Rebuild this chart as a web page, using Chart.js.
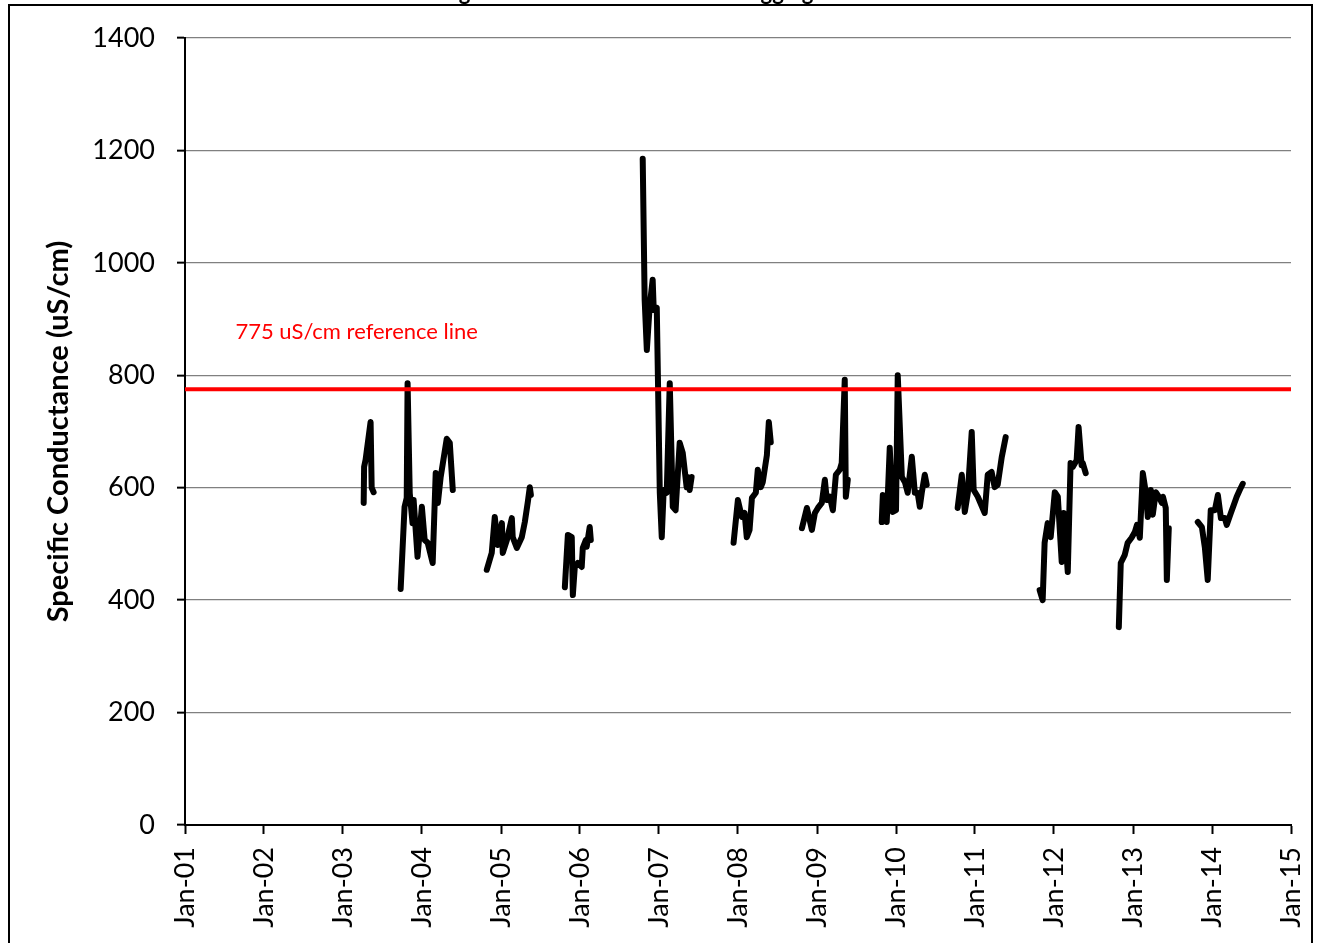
<!DOCTYPE html>
<html>
<head>
<meta charset="utf-8">
<title>Specific Conductance</title>
<script src="https://cdn.jsdelivr.net/npm/chart.js@4.4.1/dist/chart.umd.min.js"></script>
<style>
  body { margin: 0; background: #fff; }
  canvas { display: block; }
</style>
</head>
<body>
<canvas id="myChart" width="1322" height="943"></canvas>
<script>
// logger readings, a null value marks the time the logger was out of the water
const sampleDates = [
  '2003-04-07', '2003-04-09', '2003-04-16', '2003-05-09', '2003-05-14', '2003-05-23',
  '2003-08-01',
  '2003-09-25', '2003-10-13', '2003-10-23', '2003-10-27', '2003-11-06', '2003-11-19',
  '2003-11-24', '2003-12-12', '2004-01-01', '2004-01-14', '2004-01-28', '2004-02-20',
  '2004-03-05', '2004-03-15', '2004-03-28', '2004-04-25', '2004-05-09', '2004-05-23',
  '2004-08-01',
  '2004-10-27', '2004-11-19', '2004-12-03', '2004-12-17', '2005-01-05', '2005-01-09',
  '2005-01-28', '2005-02-20', '2005-02-24', '2005-03-15', '2005-04-07', '2005-04-21',
  '2005-05-05', '2005-05-14', '2005-05-19',
  '2005-08-01',
  '2005-10-23', '2005-11-06', '2005-11-24', '2005-11-29', '2005-12-08', '2005-12-22',
  '2006-01-09', '2006-01-14', '2006-01-28', '2006-02-01', '2006-02-15', '2006-02-20',
  '2006-06-01',
  '2006-10-18', '2006-10-27', '2006-11-06', '2006-11-19', '2006-12-03', '2006-12-08',
  '2006-12-22', '2007-01-05', '2007-01-14', '2007-01-23', '2007-02-06', '2007-02-20',
  '2007-03-06', '2007-03-19', '2007-04-07', '2007-04-21', '2007-05-09', '2007-05-14',
  '2007-05-23', '2007-06-01',
  '2007-09-01',
  '2007-12-12', '2008-01-01', '2008-01-19', '2008-02-01', '2008-02-11', '2008-02-24',
  '2008-03-06', '2008-03-24', '2008-04-02', '2008-04-16', '2008-04-25', '2008-05-14',
  '2008-05-23', '2008-06-01',
  '2008-08-01',
  '2008-10-23', '2008-11-15', '2008-12-08', '2008-12-22', '2009-01-05', '2009-01-23',
  '2009-02-06', '2009-02-15', '2009-03-01', '2009-03-15', '2009-03-29', '2009-04-16',
  '2009-04-25', '2009-05-09', '2009-05-14', '2009-05-23',
  '2009-08-01',
  '2009-10-27', '2009-11-01', '2009-11-19', '2009-12-03', '2009-12-17', '2010-01-01',
  '2010-01-09', '2010-01-28', '2010-02-11', '2010-02-24', '2010-03-15', '2010-03-29',
  '2010-04-11', '2010-04-21', '2010-04-30', '2010-05-14', '2010-05-23',
  '2010-08-01',
  '2010-10-13', '2010-11-01', '2010-11-15', '2010-11-29', '2010-12-17', '2010-12-26',
  '2011-01-14', '2011-02-15', '2011-03-01', '2011-03-19', '2011-04-02', '2011-04-16',
  '2011-05-05', '2011-05-23',
  '2011-08-01',
  '2011-10-27', '2011-11-10', '2011-11-19', '2011-12-03', '2011-12-17', '2012-01-05',
  '2012-01-19', '2012-02-06', '2012-02-15', '2012-03-05', '2012-03-18', '2012-03-28',
  '2012-04-15', '2012-04-24', '2012-05-08', '2012-05-13', '2012-05-27',
  '2012-08-01',
  '2012-10-27', '2012-11-05', '2012-11-23', '2012-12-07', '2012-12-25', '2013-01-09',
  '2013-01-19', '2013-02-01', '2013-02-15', '2013-03-01', '2013-03-10', '2013-03-24',
  '2013-04-02', '2013-04-16', '2013-04-30', '2013-05-14', '2013-05-19', '2013-06-01',
  '2013-06-06', '2013-06-15',
  '2013-08-01',
  '2013-10-27', '2013-11-15', '2013-11-29', '2013-12-12', '2013-12-26', '2014-01-14',
  '2014-01-28', '2014-02-11', '2014-03-01', '2014-03-10', '2014-03-29', '2014-04-11',
  '2014-04-25', '2014-05-09', '2014-05-23'
];

const conductance = [
  573, 637, 650, 717, 600, 592,
  null,
  420, 566, 582, 786, 590, 537,
  578, 477, 566, 507, 502, 466,
  626, 573, 619, 687, 680, 596,
  null,
  454, 484, 548, 498, 537, 484,
  507, 546, 512, 493, 512, 539,
  575, 601, 587,
  null,
  423, 516, 512, 409, 459, 466,
  459, 493, 507, 495, 530, 507,
  null,
  1185, 934, 845, 922, 970, 916,
  920, 591, 512, 596, 591, 786,
  566, 560, 680, 662, 601, 619,
  596, 619,
  null,
  502, 578, 548, 555, 512, 525,
  582, 591, 632, 601, 610, 658,
  717, 681,
  null,
  528, 564, 525, 555, 564, 573,
  614, 578, 584, 560, 623, 632,
  644, 792, 584, 614,
  null,
  539, 587, 539, 671, 557, 560,
  800, 619, 610, 591, 655, 591,
  591, 566, 591, 623, 605,
  null,
  564, 623, 557, 591, 699, 596,
  584, 555, 623, 628, 601, 605,
  655, 690,
  null,
  418, 400, 502, 537, 512, 592,
  584, 468, 555, 450, 644, 637,
  649, 708, 640, 644, 626,
  null,
  352, 466, 480, 502, 511, 521,
  534, 511, 626, 591, 548, 596,
  552, 592, 584, 573, 584, 564,
  436, 528,
  null,
  539, 530, 493, 436, 560, 560,
  587, 546, 546, 534, 555, 569,
  584, 596, 607
];

const axisYears = [2001, 2002, 2003, 2004, 2005, 2006, 2007, 2008, 2009, 2010, 2011, 2012, 2013, 2014, 2015];
const yTicks = [0, 200, 400, 600, 800, 1000, 1200, 1400];

const referenceLevel = 775;
const referenceLabel = '775 uS/cm reference line';
const chartTitle = 'Monitoring Station Conductance Data Logging Record';
const yTitle = 'Specific Conductance (uS/cm)';

const dayMs = 86400000;
function toDay(s) {
  return Date.parse(s + 'T00:00:00Z') / dayMs;
}
function yearDay(y) {
  return Date.UTC(y, 0, 1) / dayMs;
}

const points = sampleDates.map((d, i) => ({ x: toDay(d), y: conductance[i] }));
const xMin = yearDay(axisYears[0]);
const xMax = yearDay(axisYears[axisYears.length - 1]);

Chart.defaults.font.family = 'Lato, "Open Sans", sans-serif';
Chart.defaults.color = '#000';

// title, red text next to the reference line and the outer frame
const extras = {
  id: 'extras',
  afterDraw(chart) {
    const ctx = chart.ctx;
    const xs = chart.scales.x;
    const ys = chart.scales.y;
    ctx.save();
    ctx.fillStyle = '#ff0000';
    ctx.font = '22px Lato';
    ctx.textAlign = 'left';
    ctx.textBaseline = 'middle';
    ctx.fillText(referenceLabel, xs.getPixelForValue(toDay('2001-08-22')), ys.getPixelForValue(877));

    ctx.fillStyle = '#000';
    ctx.font = 'bold 22px Lato';
    ctx.textAlign = 'center';
    ctx.textBaseline = 'alphabetic';
    ctx.fillText(chartTitle, 624, 0);

    ctx.strokeStyle = '#000';
    ctx.lineWidth = 2;
    ctx.strokeRect(9, 5, 1303, 960);
    ctx.restore();
  }
};

const config = {
  type: 'line',
  data: {
    datasets: [
      {
        label: 'Reference',
        data: [{ x: xMin, y: referenceLevel }, { x: xMax, y: referenceLevel }],
        borderColor: '#ff0000',
        borderWidth: 4,
        pointRadius: 0
      },
      {
        label: 'Specific Conductance',
        data: points,
        borderColor: '#000',
        borderWidth: 6,
        borderJoinStyle: 'round',
        borderCapStyle: 'round',
        pointRadius: 0,
        tension: 0,
        spanGaps: false
      }
    ]
  },
  options: {
    responsive: false,
    animation: false,
    layout: { padding: { left: 0, right: 31, top: 38, bottom: 0 } },
    plugins: {
      legend: { display: false },
      tooltip: { enabled: false }
    },
    scales: {
      x: {
        type: 'linear',
        min: xMin,
        max: xMax,
        afterBuildTicks: scale => {
          scale.ticks = axisYears.map(y => ({ value: yearDay(y) }));
        },
        afterFit: scale => {
          scale.height = 118;
          scale.paddingLeft = 0;
          scale.paddingRight = 0;
        },
        ticks: {
          autoSkip: false,
          minRotation: 90,
          maxRotation: 90,
          padding: 13,
          font: { size: 27 },
          callback: value => {
            const yr = new Date(value * dayMs).getUTCFullYear();
            return 'Jan-' + String(yr % 100).padStart(2, '0');
          }
        },
        grid: {
          drawOnChartArea: false,
          drawTicks: true,
          tickLength: 9,
          tickColor: '#000',
          tickWidth: 2
        },
        border: { color: '#000', width: 2 }
      },
      y: {
        min: 0,
        max: 1400,
        afterBuildTicks: scale => {
          scale.ticks = yTicks.map(v => ({ value: v }));
        },
        afterFit: scale => {
          scale.width = 185;
          scale.paddingTop = 0;
          scale.paddingBottom = 0;
        },
        ticks: {
          padding: 22,
          font: { size: 27 },
          callback: value => String(value)
        },
        grid: {
          color: '#808080',
          lineWidth: 1.3,
          tickLength: 8,
          tickColor: '#000',
          tickWidth: 2
        },
        border: { color: '#000', width: 2 },
        title: {
          display: true,
          text: yTitle,
          font: { size: 29, weight: 'bold' },
          padding: { top: 41, bottom: 0 }
        }
      }
    }
  },
  plugins: [extras]
};

const myChart = new Chart(document.getElementById('myChart'), config);
</script>
</body>
</html>
